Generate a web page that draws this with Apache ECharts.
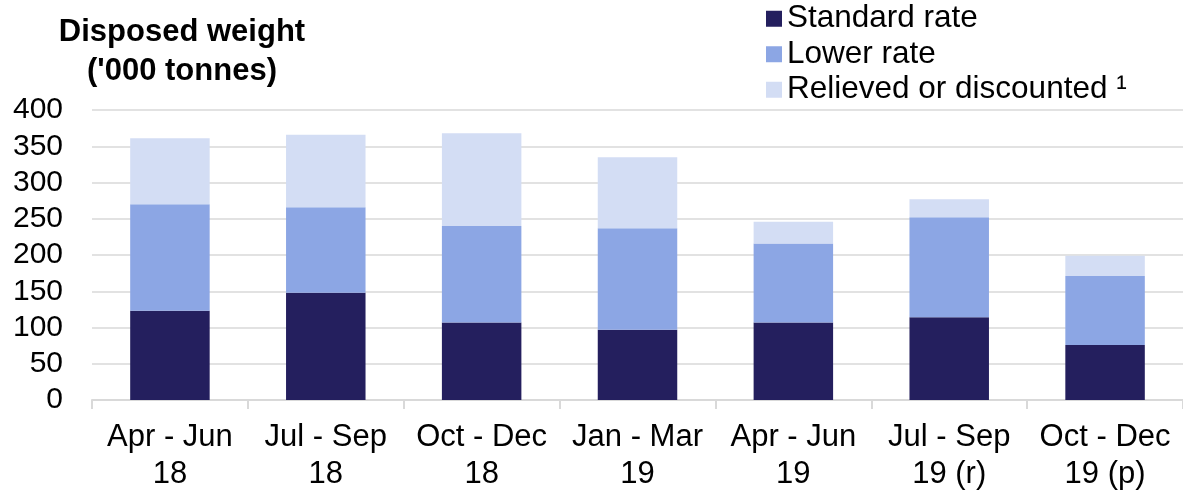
<!DOCTYPE html>
<html>
<head>
<meta charset="utf-8">
<script src="https://cdn.jsdelivr.net/npm/echarts@6/dist/echarts.min.js"></script>
<style>html,body{margin:0;padding:0;background:#fff;}#c{width:1183px;height:493px;}</style>
</head>
<body>
<div id="c"></div>
<script>
const categories = ['Apr - Jun\n18', 'Jul - Sep\n18', 'Oct - Dec\n18', 'Jan - Mar\n19', 'Apr - Jun\n19', 'Jul - Sep\n19 (r)', 'Oct - Dec\n19 (p)'];
const standardRate = [123, 148, 107, 97, 107, 114, 76];
const lowerRate = [147, 118, 133, 140, 109, 138, 95];
const relieved = [91, 100, 128, 98, 30, 25, 28];
const seriesNames = ['Standard rate', 'Lower rate', 'Relieved or discounted \u00b9'];
const colors = ['#241F5E', '#8CA6E4', '#D3DDF4'];
const yMin = 0, yMax = 400, yStep = 50;

const FONT = 'Liberation Sans, Arial, sans-serif';
const chart = echarts.init(document.getElementById('c'));
const mk = (name, data, color) => ({
  name, type: 'bar', stack: 'total', data, barWidth: '51%',
  itemStyle: { color }, emphasis: { disabled: true }
});
chart.setOption({
  animation: false,
  textStyle: { fontFamily: FONT },
  grid: { left: 92, right: 0, top: 110, bottom: 92, containLabel: false },
  graphic: [{
    type: 'text', x: 182, y: 13,
    style: {
      text: "Disposed weight\n('000 tonnes)", align: 'center', verticalAlign: 'top',
      font: 'bold 31px ' + FONT, lineHeight: 39, fill: '#000'
    }
  }],
  legend: {
    orient: 'vertical', left: 766, top: 1, padding: 0, itemWidth: 16, itemHeight: 16, itemGap: 0,
    icon: 'rect',
    textStyle: { fontSize: 31.5, color: '#000', lineHeight: 35.5, fontFamily: FONT },
    data: seriesNames
  },
  xAxis: {
    type: 'category', data: categories,
    axisLine: { lineStyle: { color: '#D9D9D9', width: 2 } },
    axisTick: { show: true, length: 9, lineStyle: { color: '#D9D9D9', width: 2 } },
    axisLabel: { fontSize: 31, color: '#000', lineHeight: 37, margin: 19, interval: 0, fontFamily: FONT }
  },
  yAxis: {
    type: 'value', min: yMin, max: yMax, interval: yStep,
    axisLine: { show: false }, axisTick: { show: false },
    splitLine: { lineStyle: { color: '#D9D9D9', width: 1.5 } },
    axisLabel: { fontSize: 30, color: '#000', margin: 29, fontFamily: FONT }
  },
  series: [
    mk(seriesNames[0], standardRate, colors[0]),
    mk(seriesNames[1], lowerRate, colors[1]),
    mk(seriesNames[2], relieved, colors[2])
  ]
});
</script>
</body>
</html>
